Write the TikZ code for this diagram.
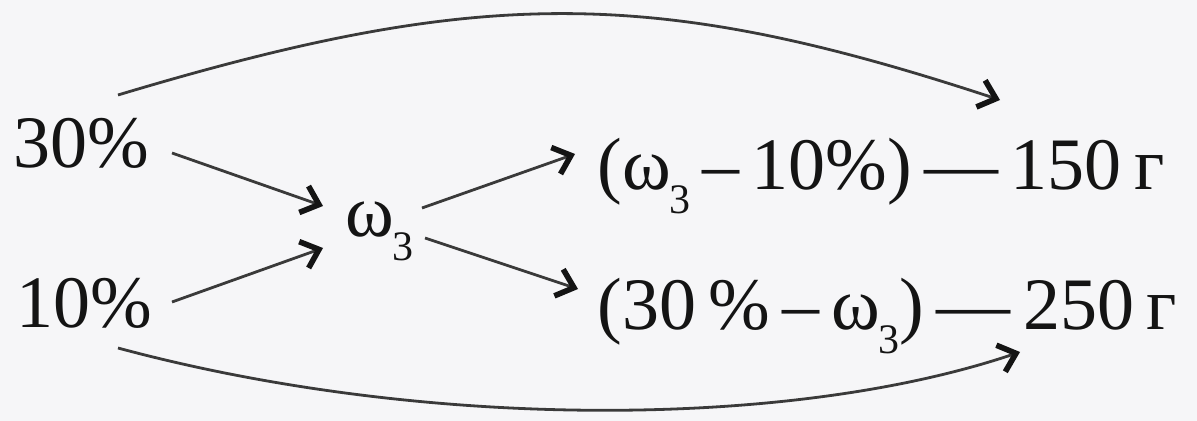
\documentclass[tikz,border=0pt]{standalone}
\usepackage{fontspec}
\setmainfont{Liberation Serif}
\usetikzlibrary{arrows.meta}
\definecolor{bg}{HTML}{F6F6F8}
\definecolor{ink}{HTML}{141414}
\definecolor{wire}{HTML}{3A3A3A}
\newcommand{\wthree}{ω\kern-0.02em\raisebox{-12pt}{\fontsize{21}{21}\selectfont 3}}
\begin{document}
\begin{tikzpicture}[x=0.5pt,y=-0.5pt,
  lbl/.style={anchor=base west,inner sep=0pt,text=ink,font=\fontsize{37}{44}\selectfont},
  conn/.style={draw=wire,line width=1.4pt,-{Straight Barb[length=8pt,width=14pt,line width=2.8pt,color=ink]}}]
\fill[bg] (0,0) rectangle (1197,421);
\useasboundingbox (0,0) rectangle (1197,421);
\node[lbl] (p30) at (13,168) {30\%};
\node[lbl] (p10) at (16,328) {10\%};
\node[lbl] (w) at (345,237) {\wthree};
\node[lbl] (top) at (597,190) {(\wthree\,–\,10\%)\,—\,150\,г};
\node[lbl] (bot) at (597,330) {(30\,\%\,–\,\wthree)\,—\,250\,г};
\coordinate (a1) at (172,153); \coordinate (a1e) at (323,206);
\coordinate (a2) at (172,302); \coordinate (a2e) at (323,248);
\coordinate (a3) at (422,208); \coordinate (a3e) at (575,154);
\coordinate (a4) at (425,238); \coordinate (a4e) at (578,289);
\coordinate (t0) at (118,95);
\coordinate (t1) at (1000,100);
\coordinate (b0) at (118,348);
\coordinate (b1) at (1020,352);
\draw[conn] (a1) -- (a1e);
\draw[conn] (a2) -- (a2e);
\draw[conn] (a3) -- (a3e);
\draw[conn] (a4) -- (a4e);
\draw[conn] (t0) .. controls (481,-14) and (654,-14) .. (t1);
\draw[conn] (b0) .. controls (422,430) and (789,430) .. (b1);
\end{tikzpicture}
\end{document}
